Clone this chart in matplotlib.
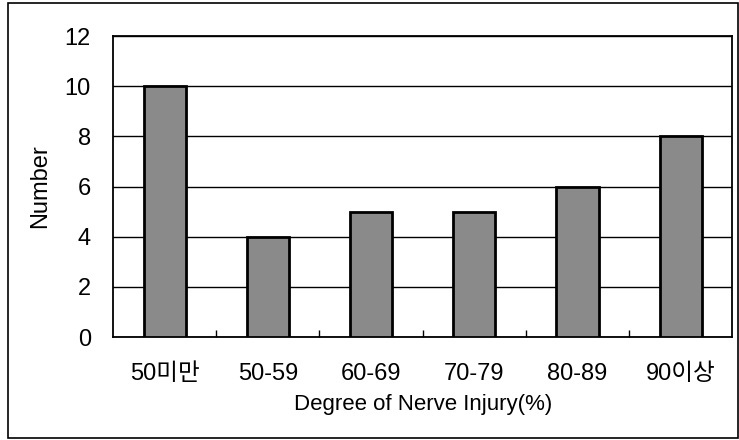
import matplotlib.pyplot as plt
import numpy as np
from matplotlib.patches import Rectangle

# data
categories = ['50미만', '50-59', '60-69', '70-79', '80-89', '90이상']
counts = [10, 4, 5, 5, 6, 8]

plt.rcParams['font.family'] = ['Liberation Sans', 'Noto Sans CJK KR', 'DejaVu Sans']

fig = plt.figure(figsize=(7.39, 4.40), dpi=100)
ax = fig.add_axes([0.153, 0.234, 0.838, 0.684])

x = np.arange(len(categories))
ax.bar(x, counts, width=0.41, color='#8a8a8a', edgecolor='black', linewidth=2, zorder=3)

ax.set_xlim(-0.5, len(categories) - 0.5)
ax.set_ylim(0, 12)
ax.set_yticks(range(0, 13, 2))
ax.set_xticks(x)
ax.set_xticklabels(categories)
ax.tick_params(axis='x', length=0, labelsize=17, pad=19)
ax.tick_params(axis='y', length=0, labelsize=17, pad=16)

# small inward ticks between categories
ax.set_xticks(np.arange(0.5, len(categories) - 0.5), minor=True)
ax.tick_params(axis='x', which='minor', direction='in', length=5, width=1)

ax.yaxis.grid(True, color='black', linewidth=1)
ax.set_axisbelow(True)
for s in ax.spines.values():
    s.set_linewidth(1.3)

ax.set_xlabel('Degree of Nerve Injury(%)', fontsize=16, labelpad=6)
ax.set_ylabel('Number', fontsize=17, labelpad=10)

# outer frame around the whole chart
fig.patches.append(Rectangle((8 / 739, 2 / 440), 730 / 739, 435 / 440,
                             transform=fig.transFigure, fill=False,
                             edgecolor='black', linewidth=1.2))

fig.savefig('out.png', dpi=100)
